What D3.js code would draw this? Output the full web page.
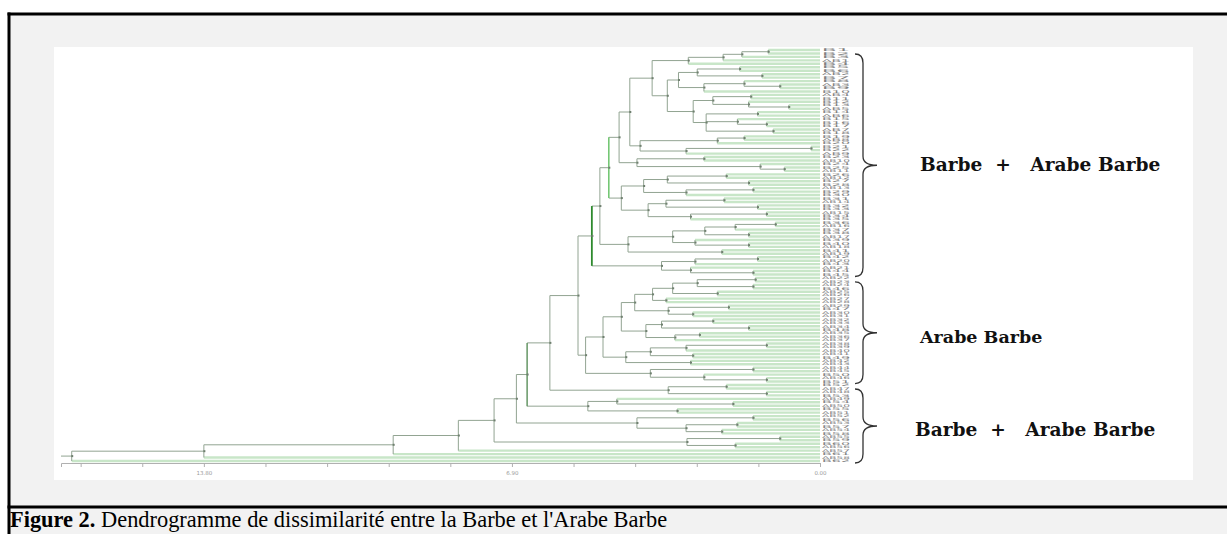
<!DOCTYPE html>
<html>
<head>
<meta charset="utf-8">
<script src="https://cdn.jsdelivr.net/npm/d3@7"></script>
<style>
  body { margin: 0; background: #fff; }
  svg { display: block; }
  text { white-space: pre; }
</style>
</head>
<body>
<div id="chart"></div>
<script>
// subtrees: [height, child, child, ...] ; a leaf is the sample name
const clusterTop = [2.95, [2.17, [1.75, [1.16, "B1", "B2"], "B3"], "AB1"], "B4"];
const cluster667 = [3.42,
  [3.17,
    [2.75, [1.80, "B5", "B6"], [1.30, "AB2", "B7"]],
    [2.60, [1.70, "B8", [0.90, "AB3", "B9"]], "B10"]],
  [2.84,
    [2.40, [1.55, "AB4", "B11"], [1.60, "B12", [0.70, "B13", "AB5"]]],
    [2.55, [1.40, "B14", "AB6"], [1.85, "B15", [1.20, "B16", "B17"]], [1.05, "AB7", "B18"]]]];
const clusterS1 = [4.03, [2.30, [1.70, "B19", "AB8"], "B20"], [3.00, [0.20, "B21", "B22"], "AB9"]];
const clusterS2 = [4.10, [2.60, "B23", "AB10"], [1.34, "B24", [0.80, "B25", "AB11"]]];
const clusterS3a = [4.45,
  [3.95, [3.42, [2.10, "B26", "AB12"], [1.60, "B27", "B28"]], [3.00, [1.50, "AB13", "B29"], "B30"]],
  [3.85, [3.45, [2.15, "B31", "AB14"], [1.40, "B32", "B33"]], [2.90, [1.20, "AB15", "B34"], "B35"]]];
const clusterS3b = [4.30,
  [3.30, [2.58, [1.90, [1.00, "B36", "AB16"], "B37"], [1.60, "B38", "AB17"]], [2.80, "B39", [1.60, "B40", "AB18"]]],
  [2.20, "B41", "AB19"]];
const clusterK = [3.55, [2.80, [1.40, "B42", "AB20"], "B43"], [2.90, "AB21", [1.50, "B44", "B45"]]];

const groupArabe = [4.86,
  [4.45,
    [4.15,
      [3.75, [3.30, [2.75, [1.45, "AB22", "AB23"], [1.50, "AB24", "B46"]], [2.30, "AB25", "AB26"]], [3.45, "AB27", "AB28"]],
      [3.40, [2.05, "AB29", "B47"], [2.85, "AB30", "AB31"]]],
    [3.90, [3.55, [2.40, "AB32", "AB33"], [1.60, "AB34", "B48"]], [3.25, [2.70, "AB35", "AB36"], "AB37"]]],
  [4.35,
    [3.80, [3.00, [1.20, "AB38", "AB39"], "AB40"], [2.85, "AB41", "B49"]],
    [2.90, "AB42", "AB43"]]];
const clusterQ = [3.80, [1.50, "AB44", "AB45"], [2.60, "B50", [1.20, "AB46", "B51"]]];
const clusterW = [3.40, [2.10, "B52", "AB47"], [1.20, "AB48", "B53"]];
const clusterZ = [5.20, [4.55, "AB49", [1.95, "B54", "AB50"]], [3.20, "B55", "AB51"]];
const clusterY = [4.10, [1.50, "AB52", "B56"], [3.00, [1.86, "AB53", "B57"], [2.20, "AB54", "B58"]]];
const clusterX = [2.98, [0.90, "AB55", "B59"], [1.90, "B60", "AB56"]];

// upper group: chain of joins at heights 4.26 .. 5.11
const node652 = [3.76, clusterTop, cluster667];
const node630 = [4.26, node652, clusterS1];
const node619 = [4.50, node630, clusterS2];
const node609 = [4.73, node619, clusterS3a];
const node600 = [4.93, node609, clusterS3b];
const node592 = [5.11, node600, clusterK];

// backbone down to the root
const node585 = [5.25, groupArabe, clusterQ];
const node578 = [5.42, node592, node585];
const node550 = [6.05, node578, clusterW];
const node527 = [6.56, node550, clusterZ];
const node515 = [6.80, node527, clusterY];
const node495 = [7.30, node515, clusterX];
const node458 = [8.10, node495, "AB57"];
const node393 = [9.56, node458, "B61"];
const node203 = [13.80, node393, "AB58"];
const tree = [16.76, node203, "B62"];

const tickValues = [0, 1.38, 2.76, 4.14, 5.52, 6.90, 8.28, 9.66, 11.04, 12.42, 13.80, 15.18, 16.56];
const labelTicks = [0, 6.90, 13.80];
const labelTexts = ["0.00", "6.90", "13.80"];

const groupNames = ["Barbe  +   Arabe Barbe", "Arabe Barbe", "Barbe  +   Arabe Barbe"];
const groupFirst = ["B1", "AB22", "B52"];
const groupLast = ["B45", "B51", "B62"];

const caption = "Figure 2.";
const captionRest = " Dendrogramme de dissimilarité entre la Barbe et l'Arabe Barbe";

const W = 1227, H = 534;

var svg = d3.select("#chart").append("svg")
  .attr("width", W)
  .attr("height", H);

// figure box
svg.append("rect").attr("x", 9).attr("y", 14).attr("width", W - 9).attr("height", H - 14).attr("fill", "#f2f2f2");
svg.append("line").attr("x1", 9).attr("x2", 9).attr("y1", 12.5).attr("y2", H).attr("stroke", "#000").attr("stroke-width", 3);
svg.append("line").attr("x1", 7.5).attr("x2", W).attr("y1", 14).attr("y2", 14).attr("stroke", "#000").attr("stroke-width", 3);
svg.append("line").attr("x1", 7.5).attr("x2", W).attr("y1", 507).attr("y2", 507).attr("stroke", "#000").attr("stroke-width", 3);
svg.append("rect").attr("x", 54).attr("y", 47).attr("width", 1139).attr("height", 433).attr("fill", "#fff");

///////////////////////////// hierarchy + scales

var root = d3.hierarchy(tree, d => Array.isArray(d) ? d.slice(1) : null);
var leaves = root.leaves();

var y = d3.scalePoint()
  .domain(leaves.map(d => d.data))
  .range([50, 461]);

var x = d3.scaleLinear()
  .domain([17, 0])
  .range([61, 820]);

root.eachAfter(n => {
  if (n.children) {
    n.h = n.data[0];
    n.py = (n.children[0].py + n.children[n.children.length - 1].py) / 2;
  } else {
    n.h = 0;
    n.py = y(n.data);
  }
});

var chart = svg.append("g");

// leaf lines (light green)
chart.selectAll(".leaf")
  .data(leaves)
  .join("line")
  .attr("x1", d => x(d.parent.h))
  .attr("x2", x(0))
  .attr("y1", d => d.py)
  .attr("y2", d => d.py)
  .attr("stroke", "#c8e6c8")
  .attr("stroke-width", 2.4);

var inner = root.descendants().filter(d => d.children);

// horizontal links between clusters
chart.selectAll(".hlink")
  .data(inner.filter(d => d.parent))
  .join("line")
  .attr("x1", d => x(d.parent.h))
  .attr("x2", d => x(d.h))
  .attr("y1", d => d.py)
  .attr("y2", d => d.py)
  .attr("stroke", "#92a492")
  .attr("stroke-width", 1);

// root stub
chart.append("line")
  .attr("x1", x(17)).attr("x2", x(root.h))
  .attr("y1", root.py).attr("y2", root.py)
  .attr("stroke", "#92a492");

var strong = { 5.11: ["#2e8a2e", 1.8], 4.73: ["#6cc46c", 1.5], 6.56: ["#5a8f5a", 1.4] };

// verticals
chart.selectAll(".vlink")
  .data(inner)
  .join("line")
  .attr("x1", d => x(d.h))
  .attr("x2", d => x(d.h))
  .attr("y1", d => d.children[0].py)
  .attr("y2", d => d.children[d.children.length - 1].py)
  .attr("stroke", d => strong[d.h] ? strong[d.h][0] : "#92a492")
  .attr("stroke-width", d => strong[d.h] ? strong[d.h][1] : 1);

// small join marks at each node
chart.selectAll(".mark")
  .data(inner)
  .join("rect")
  .attr("x", d => x(d.h) - 0.5)
  .attr("y", d => d.py - 1)
  .attr("width", 2)
  .attr("height", 2)
  .attr("fill", "#6f7f6f");

// leaf labels
chart.selectAll(".lab")
  .data(leaves)
  .join("text")
  .attr("x", x(0) + 2)
  .attr("y", d => d.py + 1.2)
  .attr("textLength", 28)
  .attr("lengthAdjust", "spacingAndGlyphs")
  .attr("font-family", "DejaVu Sans")
  .attr("font-size", 3.8)
  .attr("fill", "#808080")
  .text(d => d.data);

///////////////////////////// axis

var axis = chart.append("g")
  .attr("transform", "translate(0,463)")
  .call(d3.axisBottom(x)
    .tickValues(tickValues)
    .tickSize(4)
    .tickFormat(d => {
      var i = labelTicks.indexOf(d);
      return i >= 0 ? labelTexts[i] : "";
    }));
axis.select(".domain").attr("stroke", "#b0b0b0");
axis.selectAll(".tick line").attr("stroke", "#b0b0b0");
axis.selectAll(".tick text")
  .attr("font-size", 5.5)
  .attr("font-family", "DejaVu Sans")
  .attr("fill", "#999")
  .attr("dy", "0.9em");

///////////////////////////// braces + group names

function brace(y0, y1) {
  var x0 = 855, xm = 863, x1 = 877, r = 9, ym = (y0 + y1) / 2;
  return "M" + x0 + "," + y0 +
    " Q" + xm + "," + y0 + " " + xm + "," + (y0 + r) +
    " L" + xm + "," + (ym - r) +
    " Q" + xm + "," + ym + " " + x1 + "," + ym +
    " Q" + xm + "," + ym + " " + xm + "," + (ym + r) +
    " L" + xm + "," + (y1 - r) +
    " Q" + xm + "," + y1 + " " + x0 + "," + y1;
}

groupNames.forEach((name, i) => {
  var y0 = y(groupFirst[i]) + 4, y1 = y(groupLast[i]) + 2;
  svg.append("path")
    .attr("d", brace(y0, y1))
    .attr("fill", "none")
    .attr("stroke", "#333")
    .attr("stroke-width", 1.3);
  svg.append("text")
    .attr("x", i == 2 ? 915 : 920)
    .attr("y", (y0 + y1) / 2 + (i == 0 ? 6 : 10))
    .attr("font-family", "DejaVu Serif")
    .attr("font-weight", "bold")
    .attr("font-size", i == 1 ? 17.5 : 18.6)
    .attr("fill", "#111")
    .text(name);
});

///////////////////////////// caption

var cap = svg.append("text")
  .attr("x", 10)
  .attr("y", 527)
  .attr("font-family", "Liberation Serif")
  .attr("font-size", 22.4)
  .attr("fill", "#000");
cap.append("tspan").attr("font-weight", "bold").text(caption);
cap.append("tspan").text(captionRest);
</script>
</body>
</html>
